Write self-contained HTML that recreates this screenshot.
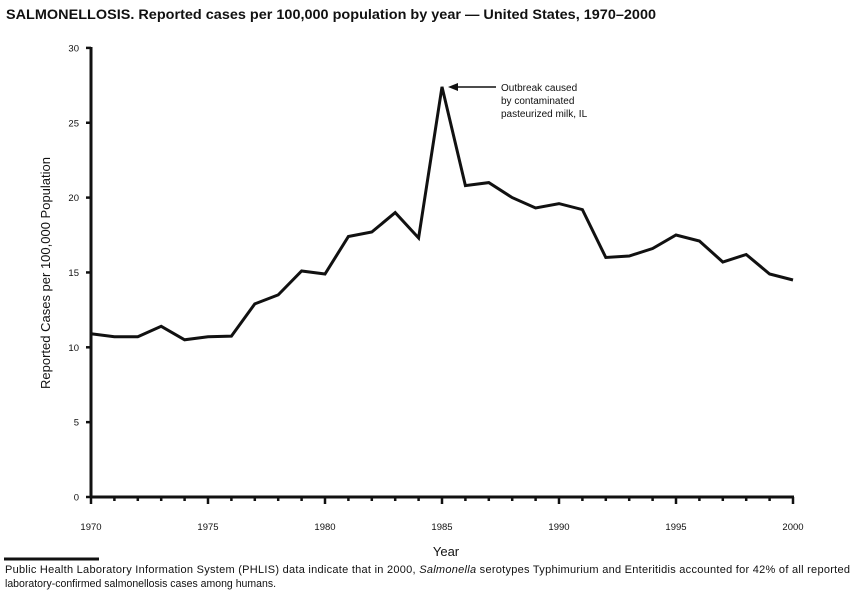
<!DOCTYPE html>
<html><head><meta charset="utf-8"><style>
html,body{margin:0;padding:0;background:#fff;width:857px;height:594px;overflow:hidden}
svg{display:block}
text{font-family:"Liberation Sans",Arial,sans-serif;fill:#111}
</style></head><body>
<svg id="s" width="857" height="594" viewBox="0 0 857 594">
<text x="6" y="19" font-size="13.5" font-weight="bold" textLength="650" lengthAdjust="spacingAndGlyphs">SALMONELLOSIS. Reported cases per 100,000 population by year — United States, 1970–2000</text>
<line x1="91" y1="47" x2="91" y2="498" stroke="#111" stroke-width="3"/>
<line x1="90" y1="497" x2="794" y2="497" stroke="#111" stroke-width="3"/>
<g id="ticks"></g>
<polyline fill="none" stroke="#111" stroke-width="3" stroke-linejoin="miter" points="91,333.8 114.4,336.8 137.8,336.8 161.2,326.3 184.6,339.8 208,336.8 231.4,336.1 254.8,303.9 278.2,294.9 301.6,271 325,274 348.4,236.5 371.8,232 395.2,212.6 418.6,238 442,86.8 465.4,185.6 488.8,182.6 512.2,197.6 535.6,208 559,203.6 582.4,209.6 605.8,257.5 629.2,256 652.6,248.5 676,235 699.4,241 722.8,262 746.2,254.5 769.6,274 793,280"/>
<line x1="496" y1="87" x2="456" y2="87" stroke="#111" stroke-width="1.5"/>
<polygon points="448,87 458,83 458,91" fill="#111"/>
<text x="501" y="91" font-size="10">Outbreak caused</text>
<text x="501" y="104" font-size="10">by contaminated</text>
<text x="501" y="117" font-size="10">pasteurized milk, IL</text>
<text transform="translate(50,273) rotate(-90)" font-size="13" text-anchor="middle">Reported Cases per 100,000 Population</text>
<text x="446" y="556" font-size="13" text-anchor="middle">Year</text>
<line x1="4" y1="559" x2="99" y2="559" stroke="#111" stroke-width="3"/>
<text x="5" y="573" font-size="11" textLength="845" lengthAdjust="spacing">Public Health Laboratory Information System (PHLIS) data indicate that in 2000, <tspan font-style="italic">Salmonella</tspan>  serotypes Typhimurium and Enteritidis accounted for 42% of all reported</text>
<text x="5" y="587" font-size="11" textLength="271" lengthAdjust="spacingAndGlyphs">laboratory-confirmed salmonellosis cases among humans.</text>
</svg>
<script>
var g=document.getElementById('ticks'),h='';
for(var i=0;i<=30;i++){var x=91+23.4*i,maj=i%5==0;
h+='<line x1="'+x+'" y1="497" x2="'+x+'" y2="'+(maj?504:501)+'" stroke="#111" stroke-width="2.5"/>';
if(maj)h+='<text x="'+x+'" y="530" font-size="9.5" text-anchor="middle">'+(1970+i)+'</text>';}
for(var v=0;v<=30;v+=5){var y=497-14.97*v;
h+='<line x1="86" y1="'+y+'" x2="91" y2="'+y+'" stroke="#111" stroke-width="2.5"/>';
h+='<text x="79" y="'+(y+3.5)+'" font-size="9.5" text-anchor="end">'+v+'</text>';}
g.innerHTML=h;
</script>
</body></html>
